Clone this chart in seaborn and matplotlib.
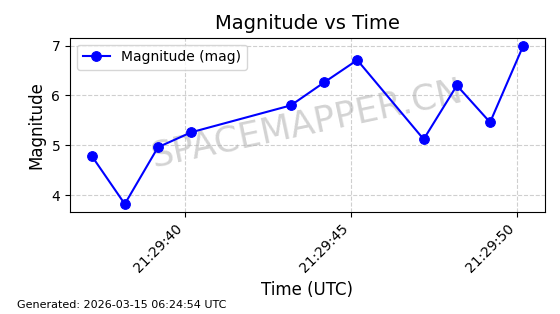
import matplotlib
matplotlib.use("Agg")
import matplotlib.pyplot as plt
import matplotlib.dates as mdates
import seaborn as sns
import pandas as pd

times = ["21:29:37.2", "21:29:38.2", "21:29:39.2", "21:29:40.2", "21:29:43.2",
         "21:29:44.2", "21:29:45.2", "21:29:47.2", "21:29:48.2", "21:29:49.2",
         "21:29:50.2"]
magnitudes = [4.79, 3.82, 4.96, 5.26, 5.80, 6.26, 6.71, 5.12, 6.20, 5.46, 7.00]

df = pd.DataFrame({
    "time": pd.to_datetime(["2026-03-15 " + t for t in times]),
    "mag": magnitudes,
})

fig, ax = plt.subplots(figsize=(5.6, 3.14), dpi=100)
sns.lineplot(data=df, x="time", y="mag", ax=ax, color="blue", marker="o",
             markersize=7, markeredgecolor="blue", linewidth=1.5,
             label="Magnitude (mag)", zorder=3)
ax.set_title("Magnitude vs Time", fontsize=14)
ax.set_xlabel("Time (UTC)", fontsize=12)
ax.set_ylabel("Magnitude", fontsize=12)
ax.grid(True, linestyle="--", alpha=0.6)
ax.xaxis.set_major_locator(mdates.SecondLocator(bysecond=[0, 5, 10, 15, 20, 25, 30, 35, 40, 45, 50, 55]))
ax.xaxis.set_major_formatter(mdates.DateFormatter("%H:%M:%S"))
plt.setp(ax.get_xticklabels(), rotation=45, ha="right")
ax.legend(loc="upper left")
ax.text(0.5, 0.505, "SPACEMAPPER.CN", transform=ax.transAxes, fontsize=25.5,
        color="gray", alpha=0.35, rotation=12, ha="center", va="center", zorder=1)
fig.tight_layout()
fig.subplots_adjust(left=0.125, right=0.973, top=0.88, bottom=0.325)
fig.text(0.03, 0.02, "Generated: 2026-03-15 06:24:54 UTC", fontsize=8)
fig.savefig("out.png", dpi=100)
